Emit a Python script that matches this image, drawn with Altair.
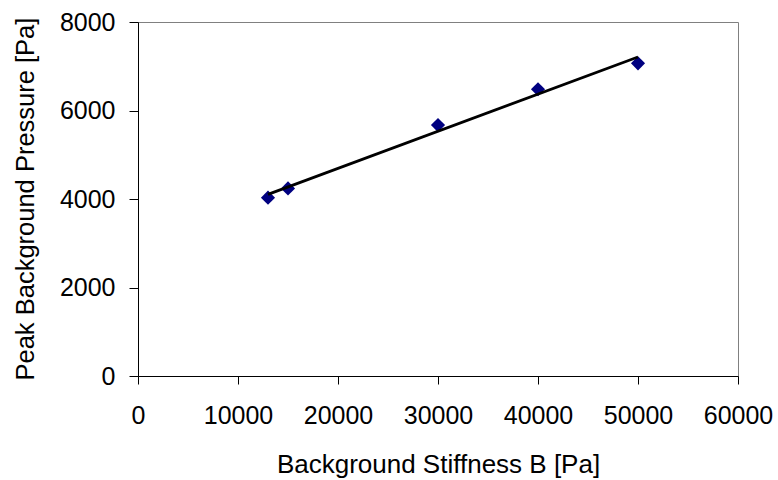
import altair as alt
import pandas as pd

stiffness = [13000, 15000, 30000, 40000, 50000]
pressure = [4030, 4240, 5670, 6480, 7065]
x_ticks = [0, 10000, 20000, 30000, 40000, 50000, 60000]
y_ticks = [0, 2000, 4000, 6000, 8000]

df = pd.DataFrame({"B": stiffness, "P": pressure})

FONT = "Liberation Sans"

x_enc = alt.X(
    "B:Q",
    scale=alt.Scale(domain=[0, 60000], nice=False, zero=False),
    axis=alt.Axis(
        title="Background Stiffness B [Pa]",
        values=x_ticks,
        format="d",
        grid=False,
        domainColor="black",
        domainWidth=1,
        tickColor="black",
        tickSize=8,
        labelPadding=19,
        labelFont=FONT,
        labelFontSize=25,
        labelColor="black",
        labelFlush=False,
        labelOverlap=False,
        titleFont=FONT,
        titleFontSize=26,
        titleFontWeight="normal",
        titleColor="black",
        titleBaseline="alphabetic",
        titleY=96,
    ),
)
y_enc = alt.Y(
    "P:Q",
    scale=alt.Scale(domain=[0, 8000], nice=False),
    axis=alt.Axis(
        title="Peak Background Pressure [Pa]",
        values=y_ticks,
        format="d",
        grid=False,
        domainColor="black",
        domainWidth=1,
        tickColor="black",
        tickSize=9,
        labelPadding=14,
        labelFont=FONT,
        labelFontSize=25,
        labelColor="black",
        labelFlush=False,
        labelOverlap=False,
        titleFont=FONT,
        titleFontSize=25.5,
        titleFontWeight="normal",
        titleColor="black",
        titleAngle=270,
        titleAlign="left",
        titleBaseline="alphabetic",
        titleX=-105,
        titleY=358,
    ),
)

points = alt.Chart(df).mark_point(
    shape="diamond", filled=True, size=200, color="#000080", opacity=1
).encode(x=x_enc, y=y_enc)

trend = alt.Chart(df).transform_regression("B", "P", method="linear").mark_line(
    color="black", strokeWidth=2.8
).encode(x="B:Q", y="P:Q")

chart = (
    alt.layer(points, trend)
    .properties(
        width=600,
        height=354,
        padding={"left": 138, "top": 22, "right": 40, "bottom": 104},
        autosize=alt.AutoSizeParams(type="none"),
        background="white",
    )
    .configure_view(stroke="#808080", strokeWidth=1)
)

chart.save("out.html", embed_options={"renderer": "svg", "actions": False})
